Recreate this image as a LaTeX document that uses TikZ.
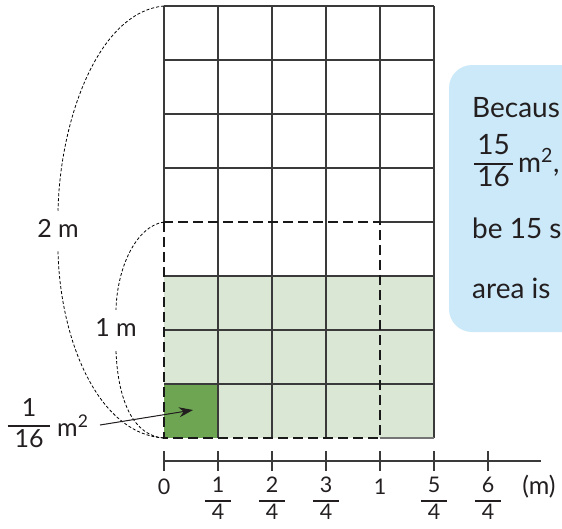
\documentclass[tikz,border=0pt]{standalone}
\usepackage{fontspec}
\setmainfont{Lato}
\usetikzlibrary{arrows.meta}
\definecolor{lightg}{HTML}{D9E7D4}
\definecolor{darkg}{HTML}{6EA552}
\definecolor{boxblue}{HTML}{CBE9F9}
\definecolor{gridc}{HTML}{3A3A3A}
\definecolor{txt}{HTML}{231F20}
\newcommand{\frc}[2]{{\setlength{\arrayrulewidth}{1.2pt}\renewcommand{\arraystretch}{1.05}\begin{tabular}{@{\hspace{7pt}}c@{\hspace{7pt}}}#1\\\hline #2\end{tabular}}}
\newcommand{\frcb}[2]{{\setlength{\arrayrulewidth}{1.3pt}\renewcommand{\arraystretch}{1.0}\begin{tabular}{@{\hspace{3pt}}c@{\hspace{3pt}}}#1\\\hline #2\end{tabular}}}
\begin{document}
\begin{tikzpicture}[x=1pt,y=-1pt,
  gridline/.style={draw=gridc, line width=1.1pt},
  dashrect/.style={draw=black!90, line width=2pt, dash pattern=on 10pt off 5pt},
  guide/.style={draw=black, line width=0.8pt, dash pattern=on 3pt off 2pt},
  lbl/.style={font=\fontsize{25}{29}\selectfont, text=txt, inner sep=0pt},
  axlbl/.style={font=\fontsize{21.5}{24}\selectfont, text=txt, inner sep=0pt},
  boxtxt/.style={font=\fontsize{28}{32}\selectfont, text=txt, inner sep=0pt, anchor=base west},
  tick/.style={draw=gridc, line width=1.3pt}]
\useasboundingbox (0,0) rectangle (562,528);
% blue box
\begin{scope}
\clip (0,0) rectangle (562,528);
\fill[boxblue, rounded corners=23pt] (449,65) rectangle (620,332);
\node[boxtxt] (t1) at (472,117) {Becaus};
\node[inner sep=0pt, text=txt, font=\fontsize{28}{31}\selectfont, anchor=center] (f15) at (493.5,164) {\frcb{15}{16}};
\node[boxtxt] (t2) at (518,172) {m\textsuperscript{2},};
\node[boxtxt] (t3) at (472,238) {be 15 s};
\node[boxtxt] (t4) at (472,298) {area is};
\end{scope}
% fills
\fill[lightg] (164,276) rectangle (434,438);
\fill[darkg] (164,384) rectangle (218,438);
% grid (segments under the dashed rectangle left out)
\draw[gridline] (164,6) -- (164,222);
\foreach \x in {218,272,326} \draw[gridline] (\x,6) -- (\x,438);
\draw[gridline] (380,6) -- (380,222);
\draw[gridline] (434,6) -- (434,438);
\foreach \y in {6,60,114,168,276,330,384} \draw[gridline] (164,\y) -- (434,\y);
\draw[gridline] (380,222) -- (434,222);
\draw[gridline, draw=gridc!70] (380,438) -- (434,438);
\draw[dashrect] (164,222) rectangle (380,438);
% corners
\coordinate (tl) at (164,6);
\coordinate (ml) at (164,222);
\coordinate (bl) at (164,438);
% labels
\node[lbl] (two) at (58,228) {2 m};
\node[lbl] (one) at (116,328) {1 m};
\draw[guide] (tl) .. controls (98,12) and (60,120) .. ([yshift=8pt]two.north);
\draw[guide] ([yshift=-14pt]two.south) .. controls (60,340) and (98,434) .. (bl);
\draw[guide] (ml) .. controls (136,226) and (117,268) .. ([yshift=9pt]one.north);
\draw[guide] ([yshift=-14pt]one.south) .. controls (118,402) and (134,436) .. (bl);
% 1/16 m^2 label
\node[lbl] (sixteen) at (29,426) {\frc{1}{16}};
\node[lbl, anchor=west] (msq) at (57,426) {m\textsuperscript{2}};
\coordinate (tip) at (193,410);
\draw[line width=1pt, -{Stealth[length=14pt,width=10pt]}, draw=txt, fill=txt] (100,425) -- (tip);
% number line
\coordinate (axs) at (164,461);
\coordinate (axe) at (541,461);
\draw[line width=1.3pt, draw=gridc] (axs) -- (axe);
\foreach \x in {164,218,272,326,380,434,488} \draw[tick] (\x,451) -- (\x,471);
\node[axlbl] (l0) at (164,487) {0};
\node[axlbl] (l1) at (218,501) {\frc{1}{4}};
\node[axlbl] (l2) at (272,501) {\frc{2}{4}};
\node[axlbl] (l3) at (326,501) {\frc{3}{4}};
\node[axlbl] (l4) at (380,487) {1};
\node[axlbl] (l5) at (434,501) {\frc{5}{4}};
\node[axlbl] (l6) at (488,501) {\frc{6}{4}};
\node[axlbl, font=\fontsize{25}{28}\selectfont] (lm) at (539,487) {(m)};
\end{tikzpicture}
\end{document}
